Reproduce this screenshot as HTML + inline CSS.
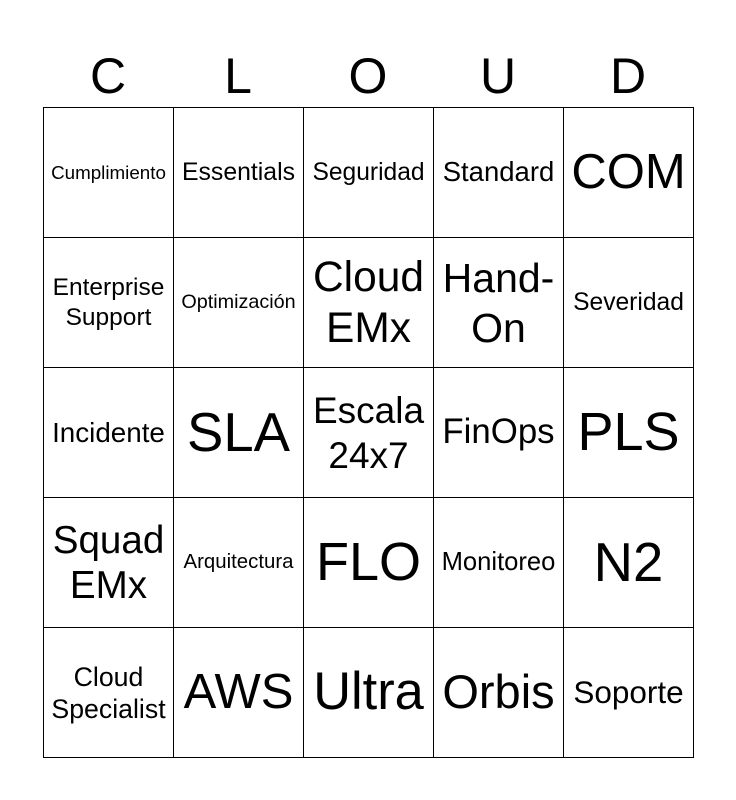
<!DOCTYPE html>
<html><head><meta charset="utf-8"><style>
body{margin:0;width:736px;height:800px;background:#fff;font-family:"Liberation Sans",Arial,sans-serif;position:relative;overflow:hidden}
.h{position:absolute;top:48px;width:130px;text-align:center;font-size:50px;line-height:56px;color:#000}
table{position:absolute;left:43px;top:107px;border-collapse:collapse}
td{width:129px;height:129px;border:1.5px solid #000;text-align:center;vertical-align:middle;padding:0;line-height:1.12;color:#000;white-space:nowrap}
</style></head><body>
<div class="h" style="left:43px">C</div>
<div class="h" style="left:173px">L</div>
<div class="h" style="left:303px">O</div>
<div class="h" style="left:433px">U</div>
<div class="h" style="left:563px">D</div>
<table>
<tr><td style="font-size:18.8px">Cumplimiento</td><td style="font-size:24.8px">Essentials</td><td style="font-size:24.6px">Seguridad</td><td style="font-size:27.5px">Standard</td><td style="font-size:49px">COM</td></tr>
<tr><td style="font-size:24.5px;line-height:30px">Enterprise<br>Support</td><td style="font-size:19.8px">Optimización</td><td style="font-size:42.5px;line-height:51px">Cloud<br>EMx</td><td style="font-size:41px;line-height:50px">Hand-<br>On</td><td style="font-size:24.6px">Severidad</td></tr>
<tr><td style="font-size:27.8px">Incidente</td><td style="font-size:54.5px">SLA</td><td style="font-size:37px;line-height:45px">Escala<br>24x7</td><td style="font-size:34.8px">FinOps</td><td style="font-size:54px">PLS</td></tr>
<tr><td style="font-size:38.6px;line-height:45px">Squad<br>EMx</td><td style="font-size:20.4px">Arquitectura</td><td style="font-size:54px">FLO</td><td style="font-size:25.6px">Monitoreo</td><td style="font-size:54.5px">N2</td></tr>
<tr><td style="font-size:26.7px;line-height:32px">Cloud<br>Specialist</td><td style="font-size:49px">AWS</td><td style="font-size:52.4px">Ultra</td><td style="font-size:47px">Orbis</td><td style="font-size:31.5px">Soporte</td></tr>
</table>
</body></html>
